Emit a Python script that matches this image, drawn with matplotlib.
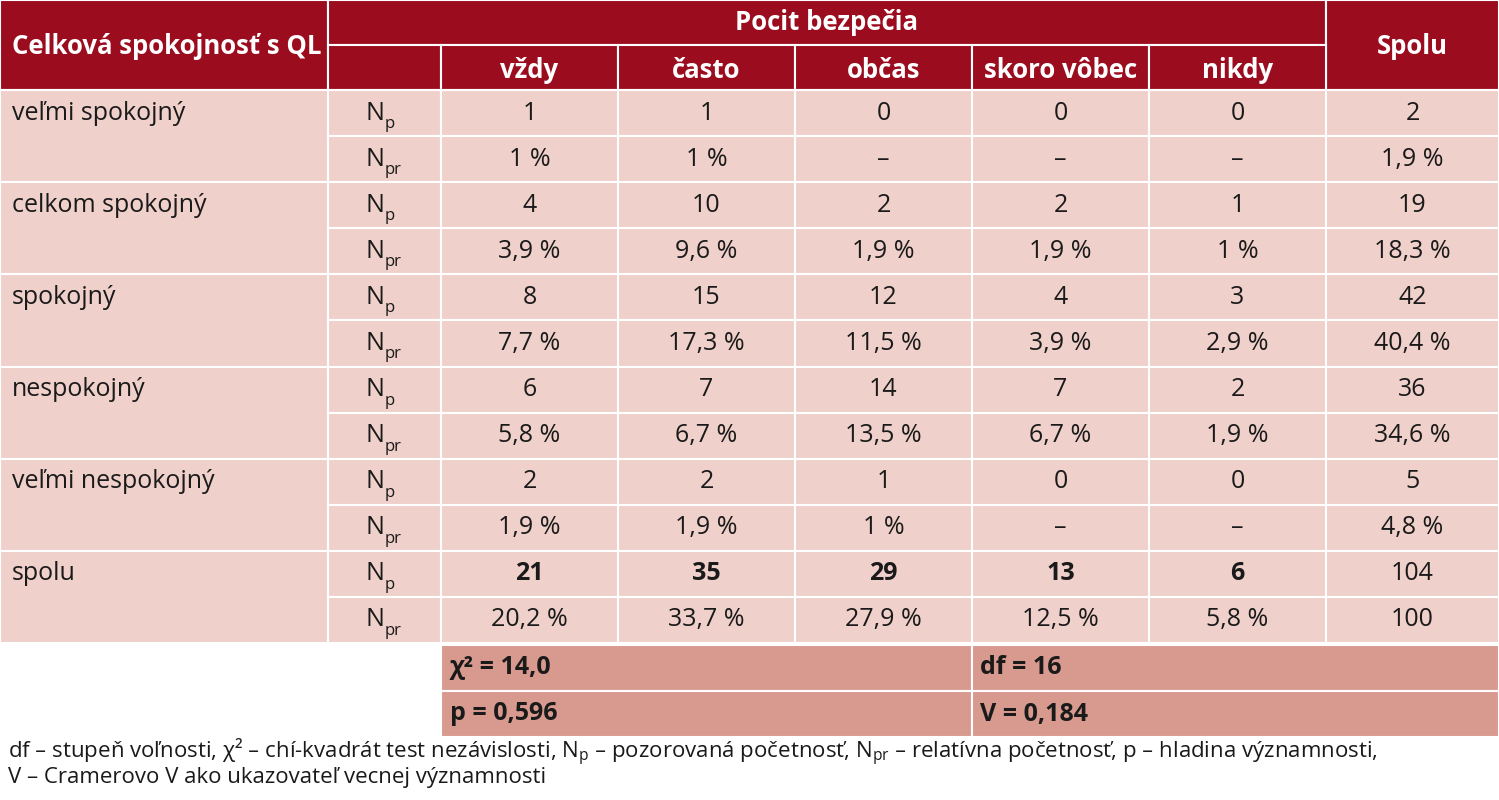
import matplotlib.pyplot as plt
from matplotlib.patches import Rectangle

plt.rcParams['font.family'] = ['Liberation Sans Narrow', 'Open Sans', 'DejaVu Sans']
plt.rcParams['mathtext.default'] = 'regular'

row_labels = ["veľmi spokojný", "celkom spokojný", "spokojný", "nespokojný",
              "veľmi nespokojný", "spolu"]
col_labels = ["vždy", "často", "občas", "skoro vôbec", "nikdy"]
counts = [
    ["1", "1", "0", "0", "0", "2"],
    ["4", "10", "2", "2", "1", "19"],
    ["8", "15", "12", "4", "3", "42"],
    ["6", "7", "14", "7", "2", "36"],
    ["2", "2", "1", "0", "0", "5"],
    ["21", "35", "29", "13", "6", "104"],
]
percents = [
    ["1 %", "1 %", "–", "–", "–", "1,9 %"],
    ["3,9 %", "9,6 %", "1,9 %", "1,9 %", "1 %", "18,3 %"],
    ["7,7 %", "17,3 %", "11,5 %", "3,9 %", "2,9 %", "40,4 %"],
    ["5,8 %", "6,7 %", "13,5 %", "6,7 %", "1,9 %", "34,6 %"],
    ["1,9 %", "1,9 %", "1 %", "–", "–", "4,8 %"],
    ["20,2 %", "33,7 %", "27,9 %", "12,5 %", "5,8 %", "100"],
]
stats = [["χ² = 14,0", "df = 16"], ["p = 0,596", "V = 0,184"]]
footnote = ["df – stupeň voľnosti, χ² – chí-kvadrát test nezávislosti, N$_{p}$ – pozorovaná početnosť, "
            "N$_{pr}$ – relatívna početnosť, p – hladina významnosti,",
            "V – Cramerovo V ako ukazovateľ vecnej významnosti"]

HEAD = "#9b0c1f"
BODY = "#efd0ca"
STAT = "#d89a8f"
TXT = "#1a1a1a"
FS = 18
xs = [0, 328, 441, 618, 795, 972, 1149, 1326, 1499]

fig = plt.figure(figsize=(14.99, 8), dpi=100)
ax = fig.add_axes([0, 0, 1, 1])
ax.set_xlim(0, 1499)
ax.set_ylim(800, 0)
ax.axis('off')

def cell(x0, y0, x1, y1, color):
    ax.add_patch(Rectangle((x0, y0), x1 - x0, y1 - y0, facecolor=color,
                           edgecolor='white', linewidth=1.5))

# header
cell(0, 0, 328, 90, HEAD)
cell(328, 0, 1326, 45, HEAD)
cell(1326, 0, 1499, 90, HEAD)
cell(328, 45, 441, 90, HEAD)
for i, lab in enumerate(col_labels):
    cell(xs[i + 2], 45, xs[i + 3], 90, HEAD)
    ax.text((xs[i + 2] + xs[i + 3]) / 2, 70, lab, color='white', fontsize=FS + 0.5,
            fontweight='bold', ha='center', va='center')
ax.text(12, 47, "Celková spokojnosť s QL", color='white', fontsize=FS + 0.5,
        fontweight='bold', ha='left', va='center')
ax.text(827, 23, "Pocit bezpečia", color='white', fontsize=FS + 0.5,
        fontweight='bold', ha='center', va='center')
ax.text(1412, 47, "Spolu", color='white', fontsize=FS + 0.5,
        fontweight='bold', ha='center', va='center')

# body
h = (643 - 90) / 12
for r, lab in enumerate(row_labels):
    y0 = 90 + 2 * r * h
    cell(0, y0, 328, y0 + 2 * h, BODY)
    ax.text(12, y0 + h * 0.5, lab, fontsize=FS, ha='left', va='center', color=TXT)
    for k, (vals, sub) in enumerate([(counts[r], "p"), (percents[r], "pr")]):
        ya = y0 + k * h
        cell(328, ya, 441, ya + h, BODY)
        ax.text(384, ya + h / 2, "N", fontsize=FS, ha='right', va='center', color=TXT)
        ax.text(385, ya + h / 2 + 11, sub, fontsize=12, ha='left', va='center', color=TXT)
        for c, v in enumerate(vals):
            cell(xs[c + 2], ya, xs[c + 3], ya + h, BODY)
            bold = (r == len(row_labels) - 1 and k == 0 and c < 5)
            ax.text((xs[c + 2] + xs[c + 3]) / 2, ya + h / 2, v, fontsize=FS,
                    ha='center', va='center', color=TXT,
                    fontweight='bold' if bold else 'normal')

# stats rows
for r, (a, b) in enumerate(stats):
    y0 = 645 + r * 46
    cell(441, y0, 972, y0 + 46, STAT)
    cell(972, y0, 1499, y0 + 46, STAT)
    ax.text(450, y0 + 23, a, fontsize=FS, fontweight='bold', ha='left', va='center', color=TXT)
    ax.text(980, y0 + 23, b, fontsize=FS, fontweight='bold', ha='left', va='center', color=TXT)

for i, line in enumerate(footnote):
    ax.text(8, 752 + i * 25, line, fontsize=16, ha='left', va='center', color=TXT)

fig.savefig("out.png", dpi=100)
